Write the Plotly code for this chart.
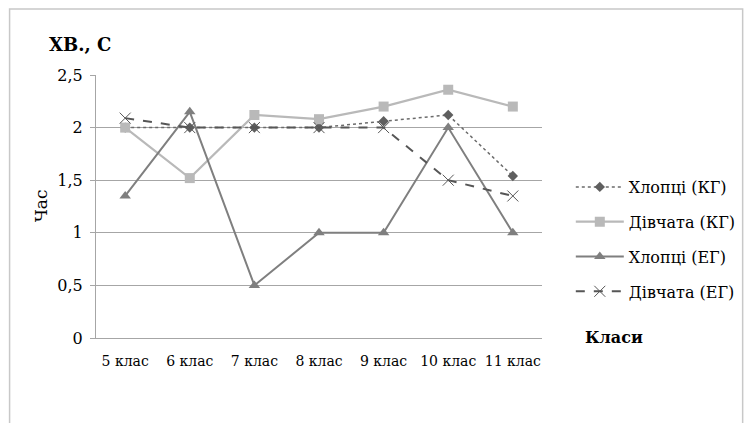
import plotly.graph_objects as go

categories = ["5 клас", "6 клас", "7 клас", "8 клас", "9 клас", "10 клас", "11 клас"]
boys_kg = [2.0, 2.0, 2.0, 2.0, 2.06, 2.12, 1.54]
girls_kg = [2.0, 1.52, 2.12, 2.08, 2.2, 2.36, 2.2]
boys_eg = [1.35, 2.15, 0.5, 1.0, 1.0, 2.0, 1.0]
girls_eg = [2.09, 2.0, 2.0, 2.0, 2.0, 1.5, 1.35]
y_ticks = [0, 0.5, 1, 1.5, 2, 2.5]
y_tick_labels = ["0", "0,5", "1", "1,5", "2", "2,5"]

FONT = "DejaVu Serif"

fig = go.Figure()
fig.add_trace(go.Scatter(x=categories, y=boys_kg, name="Хлопці (КГ)", mode="lines+markers",
                         line=dict(color="#6b6b6b", width=1.5, dash="dot"),
                         marker=dict(symbol="diamond", size=8, color="#5f5f5f"),
                         legendgroup="a"))
fig.add_trace(go.Scatter(x=categories, y=girls_kg, name="Дівчата (КГ)", mode="lines+markers",
                         line=dict(color="#b9b9b9", width=2.2),
                         marker=dict(symbol="square", size=10, color="#b9b9b9"),
                         legendgroup="b"))
fig.add_trace(go.Scatter(x=categories, y=boys_eg, name="Хлопці (ЕГ)", mode="lines+markers",
                         line=dict(color="#7f7f7f", width=2),
                         marker=dict(symbol="triangle-up", size=10, color="#7f7f7f"),
                         legendgroup="c"))
fig.add_trace(go.Scatter(x=categories, y=girls_eg, name="Дівчата (ЕГ)", mode="lines+markers",
                         line=dict(color="#565656", width=2, dash="dash"),
                         marker=dict(symbol="x-thin", size=11, color="#565656",
                                     line=dict(width=1, color="#565656")),
                         legendgroup="d"))

OFF = 8  # page body margin
W, H = 753 - OFF, 423 - OFF
PL, PR, PT, PB = 96, 545, 75, 338  # plot area in page coordinates
L, R, T, B = PL - OFF, W - (PR - OFF), PT - OFF, H - (PB - OFF)
pw, ph = W - L - R, H - T - B

def px(x):
    return (x - OFF - L) / pw

def py(y):
    return (H - B - (y - OFF)) / ph

fig.update_layout(
    width=W, height=H,
    margin=dict(l=L, r=R, t=T, b=B, pad=0),
    paper_bgcolor="white", plot_bgcolor="white",
    font=dict(family=FONT, size=14, color="#000000"),
    showlegend=True,
    legend=dict(x=px(574), y=py(170), xanchor="left", yanchor="top",
                font=dict(family=FONT, size=16, color="#000"),
                tracegroupgap=11, itemwidth=48, bgcolor="rgba(0,0,0,0)"),
    xaxis=dict(showgrid=False, showline=True, linecolor="#a6a6a6", linewidth=1,
               ticks="", tickfont=dict(family=FONT, size=14), ticklabelstandoff=10,
               fixedrange=True),
    yaxis=dict(range=[0, 2.5], tickvals=y_ticks, ticktext=y_tick_labels,
               showgrid=True, gridcolor="#a6a6a6", gridwidth=1,
               showline=True, linecolor="#a6a6a6", linewidth=1,
               ticks="outside", ticklen=5, tickcolor="#a6a6a6",
               ticklabelstandoff=4,
               tickfont=dict(family=FONT, size=16), zeroline=False, fixedrange=True),
    shapes=[dict(type="rect", xref="paper", yref="paper",
                 x0=px(OFF + 1), x1=px(747), y0=py(440), y1=py(OFF + 1),
                 line=dict(color="#c8c8c8", width=1.5), fillcolor="rgba(0,0,0,0)", layer="below")],
    annotations=[
        dict(text="<b>ХВ., С</b>", xref="paper", yref="paper", x=px(47), y=py(45),
             xanchor="left", yanchor="middle", showarrow=False,
             font=dict(family=FONT, size=18, color="#000")),
        dict(text="Час", xref="paper", yref="paper", x=px(41), y=py(206),
             xanchor="center", yanchor="middle", showarrow=False, textangle=-90,
             font=dict(family=FONT, size=17, color="#000")),
        dict(text="<b>Класи</b>", xref="paper", yref="paper", x=px(586), y=py(337),
             xanchor="left", yanchor="middle", showarrow=False,
             font=dict(family=FONT, size=16, color="#000")),
    ],
)

fig.write_html("out.html")
